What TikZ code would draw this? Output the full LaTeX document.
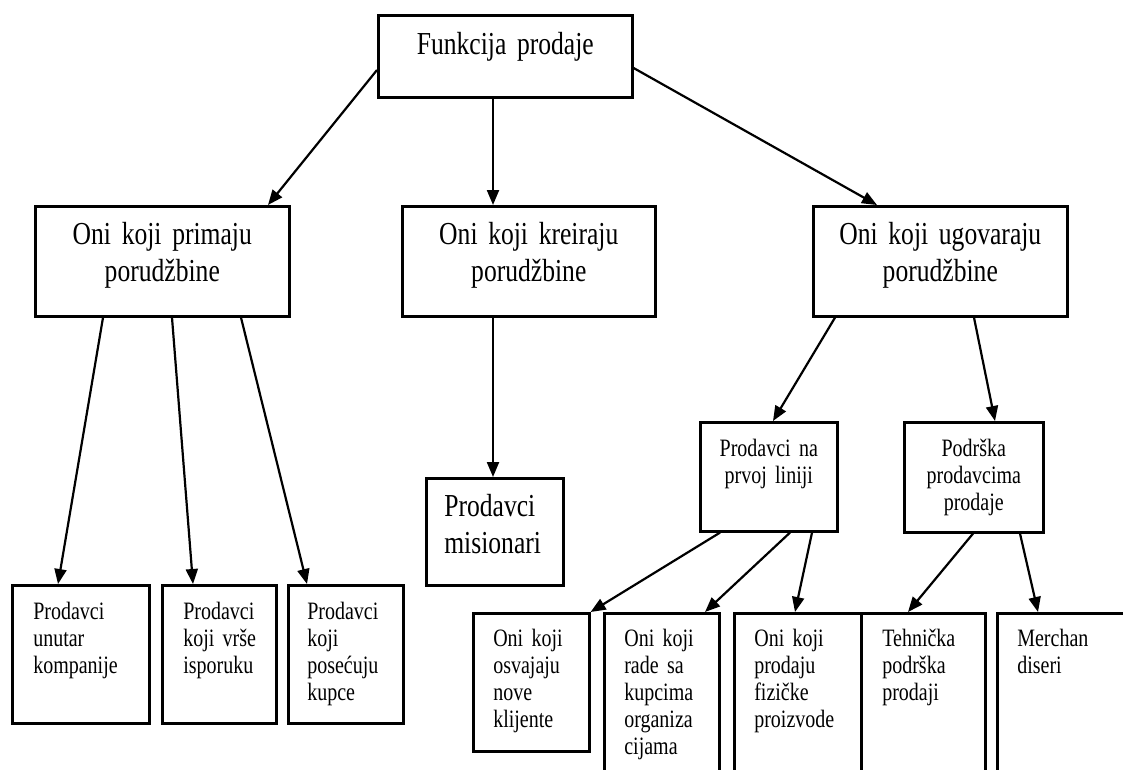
\documentclass[tikz,border=0pt]{standalone}
\usepackage{fontspec}
\setmainfont{Liberation Serif}[FakeStretch=0.8, WordSpace={0.6,0,0}]
\usepackage{tikz}
\usetikzlibrary{arrows.meta,calc}

\begin{document}
\begin{tikzpicture}[x=1pt, y=-1pt,
	box/.style={draw, line width=2.6pt, anchor=north west, inner ysep=0pt},
	bigtext/.style={font=\fontsize{32}{37}\selectfont, align=center, inner xsep=0pt},
	midtext/.style={font=\fontsize{25}{27}\selectfont, align=center, inner xsep=0pt, text height=34pt},
	leaftext/.style={font=\fontsize{25}{27}\selectfont, align=left, inner xsep=20pt, text height=33pt},
	arrow/.style={line width=2.2pt, -{Triangle[length=15pt,width=12pt]}}]
	
	% Frame
	\useasboundingbox (0,0) rectangle (1123,769);
	\clip (0,0) rectangle (1123,769);
	
	% Top
	\node[box, bigtext, text width=254pt, text height=39pt, text depth=43pt] (funkcija) at (377,14) {Funkcija prodaje};
	
	% Groups
	\node[box, bigtext, text width=254pt, text height=38pt, text depth=72pt] (primaju) at (34,205) {Oni koji primaju\\porudžbine};
	\node[box, bigtext, text width=253pt, text height=38pt, text depth=72pt] (kreiraju) at (401,205) {Oni koji kreiraju\\porudžbine};
	\node[box, bigtext, text width=254pt, text height=38pt, text depth=72pt] (ugovaraju) at (812,205) {Oni koji ugovaraju\\porudžbine};
	
	% Middle level
	\node[box, bigtext, align=left, inner xsep=18pt, text width=101pt, text height=38pt, text depth=69pt] (misionari) at (425,477) {Prodavci\\misionari};
	\node[box, midtext, text width=137pt, text depth=75pt] (prvalinija) at (699,421) {Prodavci na\\prvoj liniji};
	\node[box, midtext, text width=139pt, text depth=76pt] (podrska) at (903,421) {Podrška\\prodavcima\\prodaje};
	
	% Leaves
	\node[box, leaftext, inner xsep=21pt, text width=95pt, text height=34pt, text depth=104pt] (unutar) at (11,584) {Prodavci\\unutar\\kompanije};
	\node[box, leaftext, inner xsep=21pt, text width=72pt, text height=34pt, text depth=104pt] (isporuka) at (161,584) {Prodavci\\koji~vrše\\isporuku};
	\node[box, leaftext, inner xsep=19pt, text width=77pt, text height=34pt, text depth=104pt] (posete) at (287,584) {Prodavci\\koji\\posećuju\\kupce};
	\node[box, leaftext, text width=76pt, text depth=105pt] (osvajaju) at (472,612) {Oni~koji\\osvajaju\\nove\\klijente};
	\node[box, leaftext, text width=75pt, text depth=167pt] (radesa) at (603,612) {Oni~koji\\rade~sa\\kupcima\\organiza\\cijama};
	\node[box, leaftext, text width=87pt, text depth=167pt] (fizicke) at (733,612) {Oni~koji\\prodaju\\fizičke\\proizvode};
	\node[box, leaftext, inner xsep=21pt, text width=82pt, text depth=167pt] (tehnicka) at (860,612) {Tehnička\\podrška\\prodaji};
	\node[box, leaftext, text width=120pt, text depth=167pt] (merchan) at (996,612) {Merchan\\diseri};
	
	% Arrows from top
	\draw [arrow] ($(funkcija.north west)+(0,56)$)
		-- ($(primaju.north west)+(234,0)$);
	\draw [arrow] ($(funkcija.south west)+(116,0)$)
		-- ($(kreiraju.north west)+(92,0)$);
	\draw [arrow] ($(funkcija.north east)+(0,54)$)
		-- ($(ugovaraju.north west)+(65,0)$);
	
	% Arrows from groups
	\draw [arrow] ($(primaju.south west)+(69,0)$)
		-- ($(unutar.north west)+(47,0)$);
	\draw [arrow] ($(primaju.south west)+(138,0)$)
		-- ($(isporuka.north west)+(32,0)$);
	\draw [arrow] ($(primaju.south west)+(207,0)$)
		-- ($(posete.north west)+(20,0)$);
	\draw [arrow] ($(kreiraju.south west)+(92,0)$)
		-- ($(misionari.north west)+(68,0)$);
	\draw [arrow] ($(ugovaraju.south west)+(23,0)$)
		-- ($(prvalinija.north west)+(74,0)$);
	\draw [arrow] ($(ugovaraju.south west)+(162,0)$)
		-- ($(podrska.north west)+(92,0)$);
	
	% Arrows from middle level
	\draw [arrow] ($(prvalinija.south west)+(21,0)$)
		-- (osvajaju.north east);
	\draw [arrow] ($(prvalinija.south west)+(91,0)$)
		-- ($(radesa.north west)+(102,0)$);
	\draw [arrow] ($(prvalinija.south west)+(113,0)$)
		-- ($(fizicke.north west)+(62,0)$);
	\draw [arrow] ($(podrska.south west)+(70,0)$)
		-- ($(tehnicka.north west)+(48,0)$);
	\draw [arrow] ($(podrska.south west)+(117,0)$)
		-- ($(merchan.north west)+(42,0)$);
	
\end{tikzpicture}
\end{document}
